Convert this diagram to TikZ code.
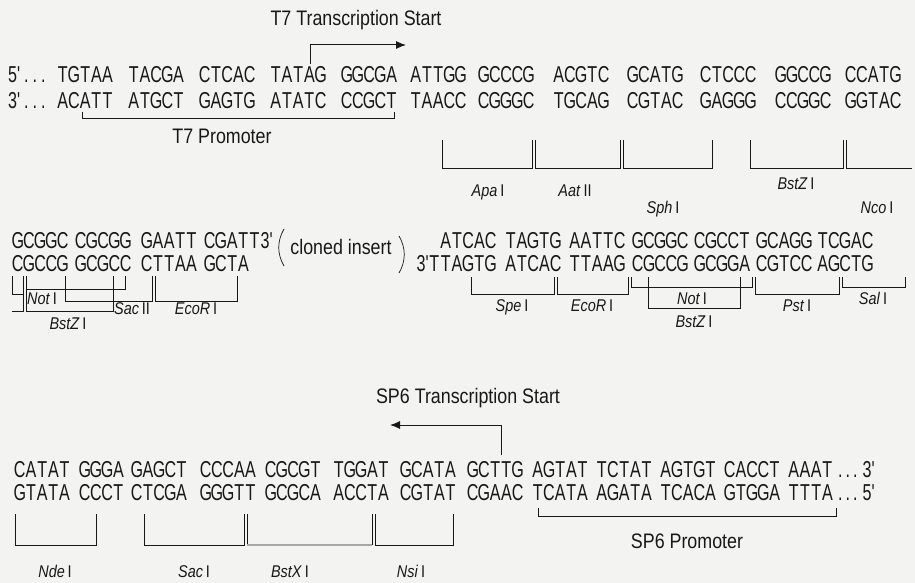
\documentclass[tikz,border=0pt]{standalone}
\usepackage{fontspec}
\setmainfont{Liberation Sans}[FakeStretch=0.85]
\newfontfamily\seqfamily{Liberation Sans}[FakeStretch=0.7]
\usetikzlibrary{arrows.meta}
\definecolor{paper}{RGB}{243,243,241}
\definecolor{ink}{RGB}{24,24,24}
\newlength\dnapitch \setlength\dnapitch{11.2pt}
\newcommand\dna[1]{\expandafter\dnaloop#1\relax}
\def\dnaloop#1{\ifx#1\relax\else\makebox[\dnapitch]{#1}\expandafter\dnaloop\fi}
\newcommand\seqsize{\seqfamily\fontsize{23}{25}\selectfont}
\newcommand\lblsize{\fontsize{21}{24}\selectfont}
\newcommand\enzsize{\fontsize{17}{19}\selectfont}
\newcommand\enz[2]{\textit{#1}\,#2}
\begin{document}
\begin{tikzpicture}[x=1pt,y=-1pt,every node/.style={inner sep=0pt,text=ink},
  seq/.style={font=\seqsize,anchor=base west},
  lbl/.style={font=\lblsize,anchor=base},
  enzlbl/.style={font=\enzsize,anchor=base},
  site/.style={draw=ink,line width=0.7pt},
  startarrow/.style={draw=ink,line width=1pt,-{Latex[length=10pt,width=8pt]}}]
\fill[paper] (0,0) rectangle (915,583);
\useasboundingbox (0,0) rectangle (915,583);
\begin{scope}
\node[lbl] (t7start) at (356,26) {T7 Transcription Start};
\coordinate (t7foot) at (310,64); \coordinate (t7tip) at (406,45);
\draw[startarrow] (t7foot) |- (t7tip);
\node[seq] (top5) at (8,83) {5'\hspace{4pt}.\hspace{4pt}.\hspace{4pt}.};
\node[seq] (bot3) at (8,109) {3'\hspace{4pt}.\hspace{4pt}.\hspace{4pt}.};
\foreach \x/\s/\c [count=\i] in {57/TGTAA/ACATT,128/TACGA/ATGCT,199/CTCAC/GAGTG,270/TATAG/ATATC,341/GGCGA/CCGCT,410/ATTGG/TAACC,478/GCCCG/CGGGC,553/ACGTC/TGCAG,627/GCATG/CGTAC,700/CTCCC/GAGGG,775/GGCCG/CCGGC,845/CCATG/GGTAC}
  {\node[seq] (topa\i) at (\x,83) {\dna{\s}}; \node[seq] (bota\i) at (\x,109) {\dna{\c}};}
\draw[site] (82,112) -- (82,118) -- (394,118) -- (394,112);
\node[lbl] (t7prom) at (222,143) {T7 Promoter};
\draw[site] (442,140) |- (532,168) -- (532,140);
\draw[site] (535,140) |- (620,168) -- (620,140);
\draw[site] (623,140) |- (712,168) -- (712,140);
\draw[site] (750,140) |- (843,168) -- (843,140);
\draw[site] (846,140) |- (912,168);
\node[enzlbl] (apa) at (488,196) {\enz{Apa}{I}};
\node[enzlbl] (aat) at (575,196) {\enz{Aat}{II}};
\node[enzlbl] (sph) at (663,213) {\enz{Sph}{I}};
\node[enzlbl] (bstza) at (796,189) {\enz{BstZ}{I}};
\node[enzlbl] (nco) at (877,213) {\enz{Nco}{I}};
\end{scope}
\begin{scope}
\foreach \x/\s/\c [count=\i] in {12/GCGGC/CGCCG,75/CGCGG/GCGCC,141/GAATT/CTTAA,204/CGATT/GCTA}
  {\node[seq] (topb\i) at (\x,248) {\dna{\s}}; \node[seq] (botb\i) at (\x,271) {\dna{\c}};}
\node[seq] (ins3) at (topb4.base east) {3'};
\draw[ink,line width=0.7pt] (284,229) .. controls (277,241) and (277,254) .. (284,266);
\node[font=\lblsize] (insert) at (341,247) {cloned insert};
\draw[ink,line width=0.7pt] (399,236) .. controls (406,248) and (406,261) .. (399,273);
\node[seq,anchor=base east] (ins5) at (440,271) {3'\dna{T}};
\foreach \x/\s/\c [count=\i] in {440/ATCAC/TAGTG,505/TAGTG/ATCAC,569/AATTC/TTAAG,632/GCGGC/CGCCG,694/CGCCT/GCGGA,756/GCAGG/CGTCC,817/TCGAC/AGCTG}
  {\node[seq] (topc\i) at (\x,248) {\dna{\s}}; \node[seq] (botc\i) at (\x,271) {\dna{\c}};}
\draw[site] (12,276) |- (23,294);
\draw[site] (12,311) -| (23,276);
\draw[site] (26,276) |- (113,311) -- (113,276);
\draw[site] (26,289) -| (125,276);
\draw[site] (65,276) |- (152,301) -- (152,276);
\draw[site] (155,276) |- (237,301) -- (237,276);
\node[enzlbl] (nota) at (42,304) {\enz{Not}{I}};
\node[enzlbl,anchor=base west] (sac2) at (114,314) {\enz{Sac}{II}};
\node[enzlbl] (ecoa) at (196,314) {\enz{EcoR}{I}};
\node[enzlbl] (bstzb) at (68,329) {\enz{BstZ}{I}};
\draw[site] (471,277) |- (554,294) -- (554,277);
\draw[site] (557,277) |- (628,294) -- (628,277);
\draw[site] (631,277) |- (752,287) -- (752,277);
\draw[site] (648,277) |- (740,308) -- (740,277);
\draw[site] (755,277) |- (839,294) -- (839,277);
\draw[site] (842,277) |- (905,287) -- (905,277);
\node[enzlbl] (spe) at (512,311) {\enz{Spe}{I}};
\node[enzlbl] (ecob) at (592,311) {\enz{EcoR}{I}};
\node[enzlbl] (notb) at (692,304) {\enz{Not}{I}};
\node[enzlbl] (bstzc) at (694,327) {\enz{BstZ}{I}};
\node[enzlbl] (pst) at (797,311) {\enz{Pst}{I}};
\node[enzlbl] (sal) at (873,304) {\enz{Sal}{I}};
\end{scope}
\begin{scope}
\node[lbl] (sp6start) at (468,403) {SP6 Transcription Start};
\coordinate (sp6foot) at (501,455); \coordinate (sp6tip) at (390,425);
\draw[startarrow] (sp6foot) |- (sp6tip);
\foreach \x/\s/\c [count=\i] in {14/CATAT/GTATA,79/GGGA/CCCT,131/GAGCT/CTCGA,200/CCCAA/GGGTT,265/CGCGT/GCGCA,333/TGGAT/ACCTA,400/GCATA/CGTAT,467/GCTTG/CGAAC,532/AGTAT/TCATA,596/TCTAT/AGATA,660/AGTGT/TCACA,724/CACCT/GTGGA,788/AAAT/TTTA}
  {\node[seq] (topd\i) at (\x,477) {\dna{\s}}; \node[seq] (botd\i) at (\x,500) {\dna{\c}};}
\node[seq] (end3) at (838,477) {.\hspace{3pt}.\hspace{3pt}.\hspace{5pt}3'};
\node[seq] (end5) at (838,500) {.\hspace{3pt}.\hspace{3pt}.\hspace{5pt}5'};
\draw[site] (538,508) -- (538,516) -- (836,516) -- (836,508);
\node[lbl] (sp6prom) at (687,548) {SP6 Promoter};
\draw[site] (15,514) |- (96,545) -- (96,514);
\draw[site] (144,514) |- (244,545) -- (244,514);
\draw[site] (247,514) -- (247,545); \draw[site] (372,514) -- (372,545);
\draw[gray!70,line width=1.2pt] (247,545) -- (372,545);
\draw[site] (375,514) |- (453,545) -- (453,514);
\node[enzlbl] (nde) at (55,577) {\enz{Nde}{I}};
\node[enzlbl] (saca) at (194,577) {\enz{Sac}{I}};
\node[enzlbl] (bstx) at (290,577) {\enz{BstX}{I}};
\node[enzlbl] (nsi) at (411,577) {\enz{Nsi}{I}};
\end{scope}
\end{tikzpicture}
\end{document}
